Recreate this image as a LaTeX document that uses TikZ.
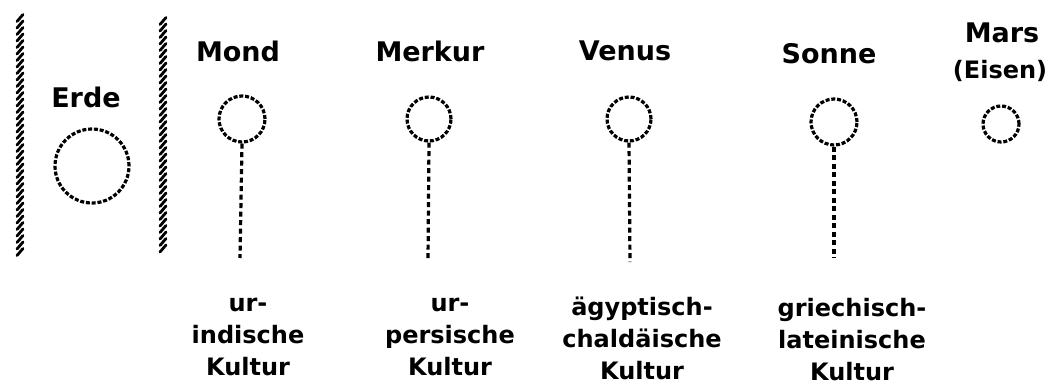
\documentclass[tikz,border=0pt]{standalone}
\usepackage{fontspec}
\setmainfont{DejaVu Sans}
\begin{document}
\begin{tikzpicture}[x=1pt,y=-1pt,
  hatch/.style={line width=3.2pt,dash pattern=on 4pt off 1.8pt},
  planet/.style={circle,draw,hatch,inner sep=0pt},
  stem/.style={line width=3.2pt,dash pattern=on 5pt off 3.5pt},
  wallstroke/.style={line width=2.8pt,line cap=round},
  pname/.style={font=\bfseries\fontsize{27}{27}\selectfont,inner sep=0pt},
  culture/.style={font=\bfseries\fontsize{24}{32}\selectfont,align=center,inner sep=0pt}]
\useasboundingbox (0,0) rectangle (1059,389);
% walls (hatched vertical strokes)
\foreach \yy in {18,24.5,...,258} \draw[wallstroke] (17,\yy+3.5) -- (23,\yy-3.5);
\foreach \yy in {21,27.5,...,252} \draw[wallstroke] (160,\yy+3.5) -- (166,\yy-3.5);
% Erde
\node[pname] (lErde) at (86,97) {Erde};
\node[planet,minimum size=74pt] (Erde) at (92,166) {};
% planets
\node[pname] (lMond) at (238,51) {Mond};
\node[planet,minimum size=46pt] (Mond) at (242,119) {};
\coordinate (eMond) at (240,258);
\draw[stem] (Mond.south) -- (eMond);

\node[pname] (lMerkur) at (430,51) {Merkur};
\node[planet,minimum size=44pt] (Merkur) at (429,119) {};
\coordinate (eMerkur) at (428,259);
\draw[stem] (Merkur.south) -- (eMerkur);

\node[pname] (lVenus) at (625,51) {Venus};
\node[planet,minimum size=44pt] (Venus) at (629,119) {};
\coordinate (eVenus) at (630,262);
\draw[stem] (Venus.south) -- (eVenus);

\node[pname] (lSonne) at (829,54) {Sonne};
\node[planet,minimum size=46pt] (Sonne) at (834,122) {};
\coordinate (eSonne) at (834,258);
\draw[stem] (Sonne.south) -- (eSonne);

\node[pname] (lMars) at (1002,33) {Mars};
\node[pname,font=\bfseries\fontsize{24}{24}\selectfont] (lEisen) at (1000,71) {(Eisen)};
\node[planet,minimum size=36pt] (Mars) at (1001,124) {};
% cultures
\node[culture] (kMond) at (248,337) {ur-\\indische\\Kultur};
\node[culture] (kMerkur) at (450,337) {ur-\\persische\\Kultur};
\node[culture] (kVenus) at (642,338) {ägyptisch-\\chaldäische\\Kultur};
\node[culture] (kSonne) at (852,340) {griechisch-\\lateinische\\Kultur};
\end{tikzpicture}
\end{document}
